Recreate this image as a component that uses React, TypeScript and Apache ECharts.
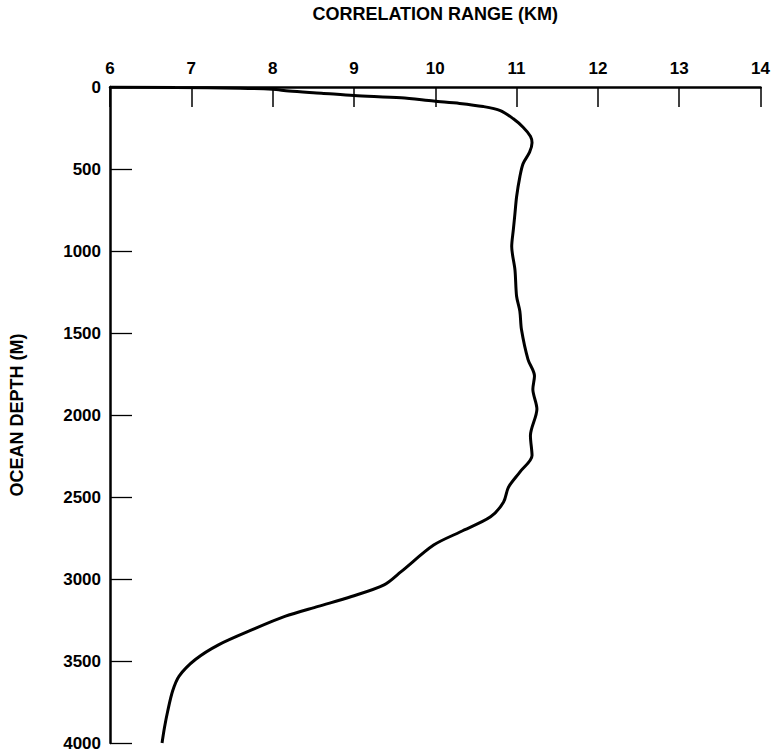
import React, { useEffect, useRef } from "react";
import * as echarts from "echarts";

const xTicks = [6, 7, 8, 9, 10, 11, 12, 13, 14];
const yTicks = [0, 500, 1000, 1500, 2000, 2500, 3000, 3500, 4000];

const rangeKm = [
  6.0, 6.8, 7.6, 8.0, 8.2, 8.6, 9.0, 9.58, 9.98, 10.3, 10.59, 10.8, 10.96, 11.08,
  11.17, 11.19, 11.16, 11.08, 11.04, 11.0, 10.98, 10.96, 10.94, 10.98, 11.0, 11.04,
  11.06, 11.14, 11.22, 11.2, 11.25, 11.17, 11.19, 11.04, 10.9, 10.84, 10.68, 10.31,
  9.98, 9.58, 9.37, 8.97, 8.56, 8.15, 7.75, 7.34, 7.05, 6.85, 6.77, 6.71, 6.67, 6.64,
];
const depthM = [
  0, 3, 7, 14, 25, 38, 52, 66, 86, 100, 119, 144, 194, 245,
  300, 340, 397, 467, 548, 669, 771, 870, 973, 1115, 1276, 1367,
  1479, 1661, 1762, 1843, 1964, 2126, 2247, 2348, 2440, 2530, 2621, 2712,
  2793, 2955, 3036, 3107, 3167, 3228, 3309, 3400, 3491, 3592, 3683, 3805, 3906, 4000,
];

const FONT = "Liberation Sans, Arial, sans-serif";

export default function App() {
  const ref = useRef<HTMLDivElement>(null);
  useEffect(() => {
    if (!ref.current) return;
    const chart = echarts.init(ref.current, undefined, { renderer: "svg" });
    const data = rangeKm.map((v, i) => [v, depthM[i]]);
    chart.setOption({
      animation: false,
      backgroundColor: "#ffffff",
      grid: { left: 107, right: 11, top: 83, bottom: 10, containLabel: false },
      xAxis: {
        type: "value",
        position: "top",
        min: xTicks[0],
        max: xTicks[xTicks.length - 1],
        interval: 1,
        name: "CORRELATION RANGE (KM)",
        nameLocation: "middle",
        nameGap: 64,
        nameTextStyle: { color: "#000", fontSize: 18, fontWeight: "bold", fontFamily: FONT },
        axisLine: { show: true, onZero: false, lineStyle: { color: "#000", width: 2.5 } },
        axisTick: { show: true, inside: true, length: 20, lineStyle: { color: "#000", width: 1.5 } },
        axisLabel: {
          color: "#000",
          fontSize: 17,
          fontWeight: "bold",
          fontFamily: FONT,
          margin: 10,
          formatter: (v: number) => String(v),
        },
        splitLine: { show: false },
      },
      yAxis: {
        type: "value",
        inverse: true,
        min: yTicks[0],
        max: yTicks[yTicks.length - 1],
        interval: 500,
        name: "OCEAN DEPTH (M)",
        nameLocation: "middle",
        nameGap: 84,
        nameTextStyle: { color: "#000", fontSize: 18, fontWeight: "bold", fontFamily: FONT },
        axisLine: { show: true, onZero: false, lineStyle: { color: "#000", width: 2.5 } },
        axisTick: { show: true, inside: true, length: 22, lineStyle: { color: "#000", width: 1.3 } },
        axisLabel: {
          color: "#000",
          fontSize: 17,
          fontWeight: "bold",
          fontFamily: FONT,
          margin: 9,
          formatter: (v: number) => String(v),
        },
        splitLine: { show: false },
      },
      series: [
        {
          type: "line",
          data,
          smooth: 0.3,
          showSymbol: false,
          symbol: "none",
          lineStyle: { color: "#000", width: 3 },
        },
      ],
    });
    return () => chart.dispose();
  }, []);
  return (
    <div
      ref={ref}
      style={{ position: "absolute", left: 0, top: 0, width: 773, height: 753 }}
    />
  );
}
